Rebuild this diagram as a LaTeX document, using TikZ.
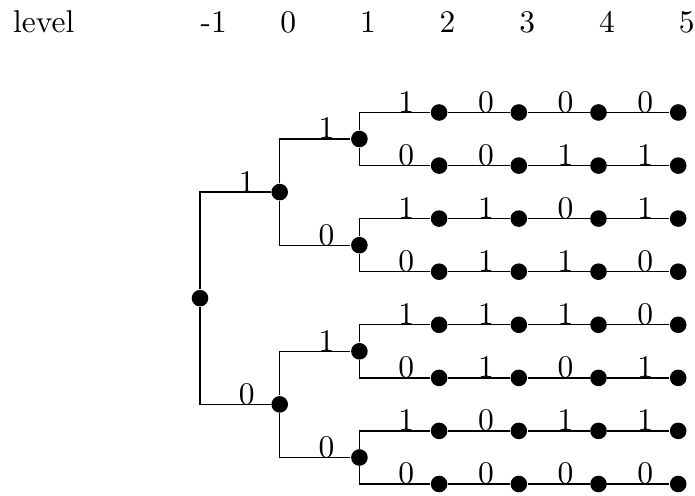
\documentclass[tikz,border=0pt]{standalone}
\begin{document}
\begin{tikzpicture}[x=0.3175pt, y=-0.3175pt,
  dot/.style={circle, fill=black, draw=none, inner sep=0pt, minimum size=5.27pt},
  bitlbl/.style={anchor=base, inner sep=0pt},
  hdr/.style={anchor=base west, inner sep=0pt},
  branch/.style={line width=0.4pt, black}]
  \useasboundingbox (0,0) rectangle (695,496);

  % level header
  \node[hdr] (hlevel) at (12.4,33) {level};
  \foreach \lv/\xx in {-1/200, 0/279.7, 1/359.4, 2/439.1, 3/518.8, 4/598.5, 5/678.2}
    \node[hdr] (h\lv) at (\xx,33) {\lv};

  % inner nodes
  \node[dot] (R)  at (200,298.2) {};
  \node[dot] (B1) at (279.7,192.1) {};
  \node[dot] (B2) at (279.7,404.4) {};
  \node[dot] (A1) at (359.4,139.0) {};
  \node[dot] (A2) at (359.4,245.2) {};
  \node[dot] (A3) at (359.4,351.3) {};
  \node[dot] (A4) at (359.4,457.5) {};

  % inner branches with their bit labels
  \foreach \p/\c/\bit in {R/B1/1, R/B2/0, B1/A1/1, B1/A2/0, B2/A3/1, B2/A4/0} {
    \draw[branch] (\p) |- (\c);
    \node[bitlbl] at ([xshift=-10.45pt]\c.center) {\bit};
  }

  % leaf rows: levels 2 to 5
  \foreach \r/\yy/\pp/\ba/\bb/\bc/\bd in {
      1/112.5/A1/1/0/0/0, 2/165.6/A1/0/0/1/1,
      3/218.6/A2/1/1/0/1, 4/271.7/A2/0/1/1/0,
      5/324.8/A3/1/1/1/0, 6/377.9/A3/0/1/0/1,
      7/430.9/A4/1/0/1/1, 8/484.0/A4/0/0/0/0} {
    \node[dot] (L\r-2) at (439.1,\yy) {};
    \node[dot] (L\r-3) at (518.8,\yy) {};
    \node[dot] (L\r-4) at (598.5,\yy) {};
    \node[dot] (L\r-5) at (678.2,\yy) {};
    \draw[branch] (\pp) |- (L\r-2);
    \draw[branch] (L\r-2) -- (L\r-3);
    \draw[branch] (L\r-3) -- (L\r-4);
    \draw[branch] (L\r-4) -- (L\r-5);
    \node[bitlbl] at ([xshift=-10.45pt]L\r-2.center) {\ba};
    \node[bitlbl] at ([xshift=-10.45pt]L\r-3.center) {\bb};
    \node[bitlbl] at ([xshift=-10.45pt]L\r-4.center) {\bc};
    \node[bitlbl] at ([xshift=-10.45pt]L\r-5.center) {\bd};
  }
\end{tikzpicture}
\end{document}
